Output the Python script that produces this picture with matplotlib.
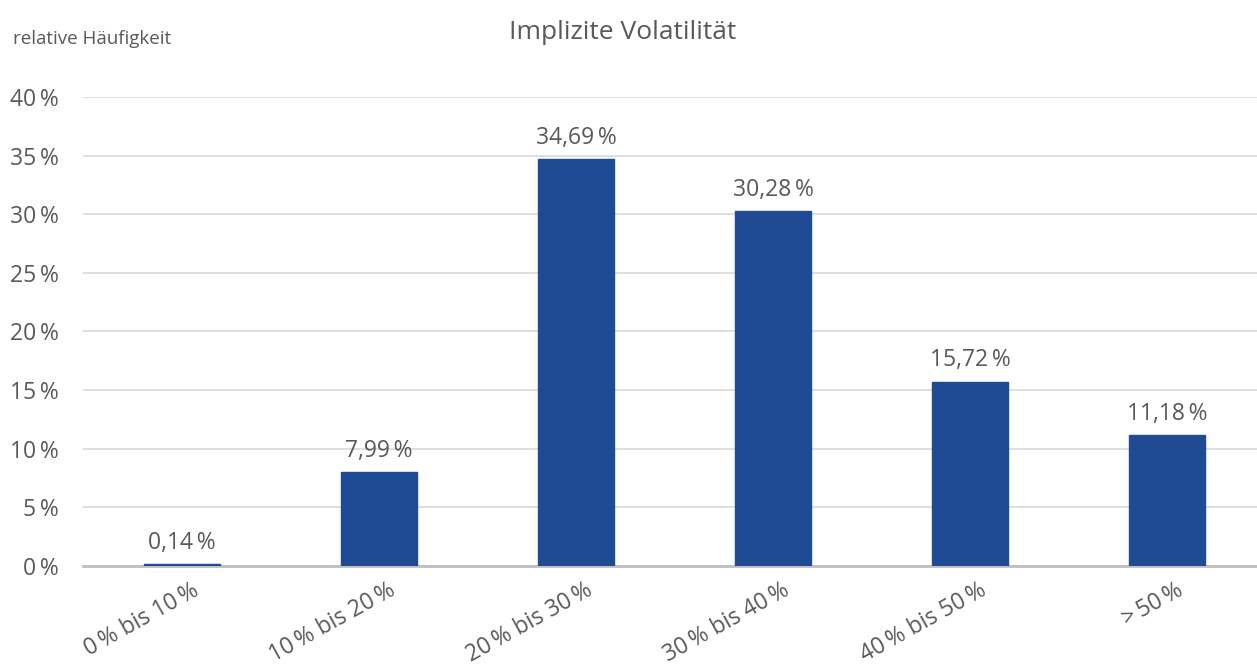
import matplotlib
matplotlib.use("Agg")
import matplotlib.pyplot as plt
import matplotlib.transforms as mtransforms

categories = ["0\u2009% bis 10\u2009%", "10\u2009% bis 20\u2009%", "20\u2009% bis 30\u2009%",
              "30\u2009% bis 40\u2009%", "40\u2009% bis 50\u2009%", ">\u200950\u2009%"]
values = [0.14, 7.99, 34.69, 30.28, 15.72, 11.18]
value_labels = ["0,14\u2009%", "7,99\u2009%", "34,69\u2009%", "30,28\u2009%", "15,72\u2009%", "11,18\u2009%"]
y_ticks = [0, 5, 10, 15, 20, 25, 30, 35, 40]
y_tick_labels = [f"{t}\u2009%" for t in y_ticks]

plt.rcParams['font.family'] = ['Open Sans', 'DejaVu Sans']
text_color = "#595959"
bar_color = "#1f4a94"

fig = plt.figure(figsize=(12.57, 6.69), dpi=100)
ax = fig.add_axes([0.0664, 0.154, 0.9403, 0.701])

x = list(range(len(categories)))
ax.bar(x, values, width=0.385, color=bar_color, edgecolor=bar_color, linewidth=1.0, zorder=3)

ax.set_xlim(-0.5, 5.5)
ax.set_ylim(0, 40)
ax.set_yticks(y_ticks)
ax.set_yticklabels(y_tick_labels, fontsize=16.5, color=text_color)
ax.yaxis.grid(True, color="#d9d9d9", linewidth=1.2, zorder=0)
ax.set_axisbelow(True)
for s in ["left", "right", "top"]:
    ax.spines[s].set_visible(False)
ax.spines["bottom"].set_color("#bfbfbf")
ax.spines["bottom"].set_linewidth(2)
ax.spines["bottom"].set_zorder(2)
ax.tick_params(axis="y", length=0, pad=18)
ax.tick_params(axis="x", length=0, pad=8)

ax.set_xticks(x)
ax.set_xticklabels(categories, fontsize=16.5, color=text_color, rotation=29,
                   ha="right", rotation_mode="anchor", va="center")
offset = mtransforms.ScaledTranslation(15 / 100, -12 / 100, fig.dpi_scale_trans)
for lab in ax.get_xticklabels():
    lab.set_transform(lab.get_transform() + offset)

for xi, v, lbl in zip(x, values, value_labels):
    ax.annotate(lbl, (xi, v), xytext=(0, 11), textcoords="offset points",
                ha="center", va="baseline", fontsize=16.5, color=text_color)

fig.text(0.495, 0.952, "Implizite Volatilität", ha="center", va="center",
         fontsize=19, color=text_color)
fig.text(0.01, 0.942, "relative Häufigkeit", ha="left", va="center",
         fontsize=13.5, color=text_color)

fig.savefig("out.png", dpi=100)
